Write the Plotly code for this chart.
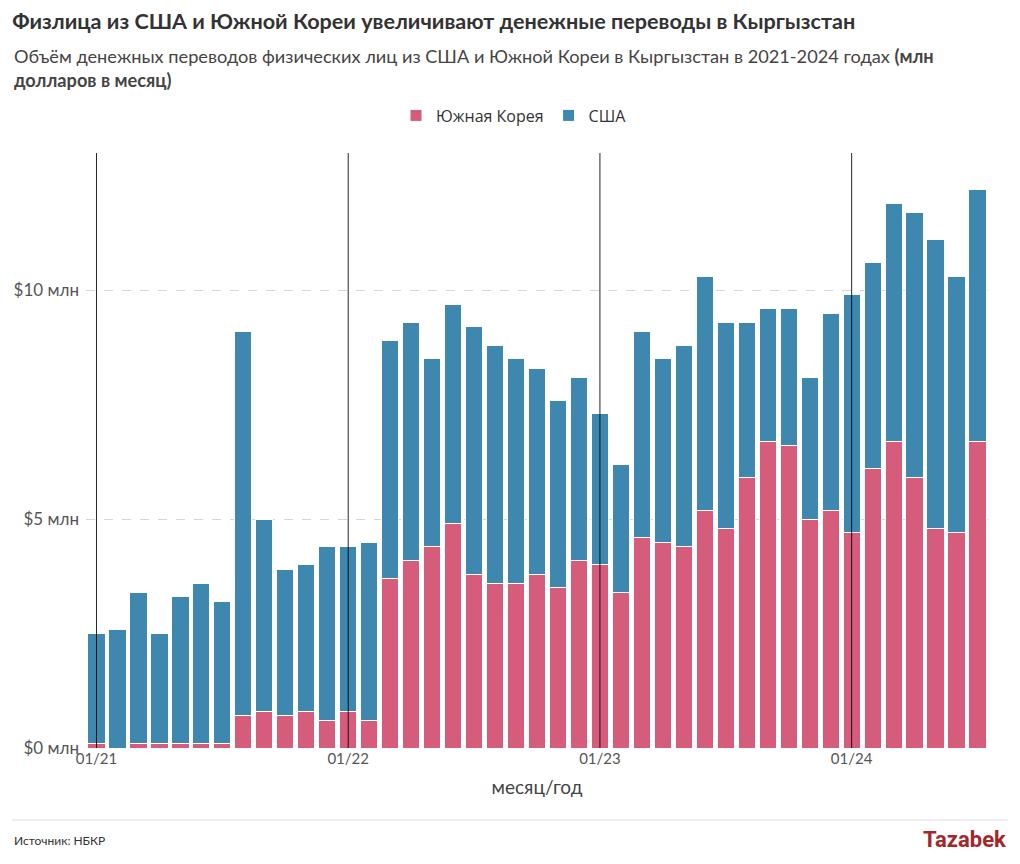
import plotly.graph_objects as go

months = [f"{m:02d}/{y}" for y in (21, 22, 23, 24) for m in range(1, 13)][:43]

total = [2.5, 2.6, 3.4, 2.5, 3.3, 3.6, 3.2, 9.1, 5.0, 3.9, 4.0, 4.4,
         4.4, 4.5, 8.9, 9.3, 8.5, 9.7, 9.2, 8.8, 8.5, 8.3, 7.6, 8.1,
         7.3, 6.2, 9.1, 8.5, 8.8, 10.3, 9.3, 9.3, 9.6, 9.6, 8.1, 9.5,
         9.9, 10.6, 11.9, 11.7, 11.1, 10.3, 12.2]
korea = [0.1, 0.0, 0.1, 0.1, 0.1, 0.1, 0.1, 0.7, 0.8, 0.7, 0.8, 0.6,
         0.8, 0.6, 3.7, 4.1, 4.4, 4.9, 3.8, 3.6, 3.6, 3.8, 3.5, 4.1,
         4.0, 3.4, 4.6, 4.5, 4.4, 5.2, 4.8, 5.9, 6.7, 6.6, 5.0, 5.2,
         4.7, 6.1, 6.7, 5.9, 4.8, 4.7, 6.7]
usa = [round(t - k, 2) for t, k in zip(total, korea)]

year_ticks = ["01/21", "01/22", "01/23", "01/24"]
y_ticks = [0, 5, 10]
y_labels = ["$0 млн", "$5 млн", "$10 млн"]

PINK = "#d65c7c"
BLUE = "#3e87ae"
FONT = "Lato, Roboto, sans-serif"

fig = go.Figure()
fig.add_trace(go.Bar(x=months, y=korea, name="Южная Корея",
                     marker=dict(color=PINK, line=dict(color="white", width=1))))
fig.add_trace(go.Bar(x=months, y=usa, name="США",
                     marker=dict(color=BLUE, line=dict(color="white", width=1))))

for t in year_ticks:
    fig.add_shape(type="line", xref="x", yref="paper", x0=t, x1=t, y0=0, y1=1,
                  line=dict(color="black", width=1), opacity=0.85, layer="above")

fig.update_layout(
    barmode="stack",
    bargap=0.18,
    width=1020, height=864,
    paper_bgcolor="white", plot_bgcolor="white",
    margin=dict(l=86, r=32, t=153, b=116),
    font=dict(family=FONT, color="#444"),
    title=dict(text="<b>Физлица из США и Южной Кореи увеличивают денежные переводы в Кыргызстан</b>",
               x=0.012, xanchor="left", y=0.975, yanchor="middle",
               font=dict(size=21.6, color="#333", family=FONT)),
    legend=dict(orientation="h", x=(514 - 86) / 902, xanchor="center", y=1.063, yanchor="middle",
                font=dict(size=16, color="#333", family="Open Sans, sans-serif"),
                traceorder="normal", itemwidth=30),
    xaxis=dict(type="category", categoryorder="array", categoryarray=months,
               tickmode="array", tickvals=year_ticks, ticktext=year_ticks,
               tickfont=dict(size=15, color="#555"), ticks="", showgrid=False,
               zeroline=False, showline=False,
               title=dict(text="месяц/год", font=dict(size=19, color="#444"), standoff=14)),
    yaxis=dict(range=[0, 13], tickmode="array", tickvals=y_ticks, ticktext=y_labels,
               tickfont=dict(size=17, color="#555"), showgrid=True,
               gridcolor="#d6d6d6", griddash="dash", gridwidth=1,
               zeroline=False, showline=False, ticks="", ticklabelstandoff=6),
)

fig.add_annotation(text="Объём денежных переводов физических лиц из США и Южной Кореи в Кыргызстан в 2021-2024 годах <b>(млн</b><br><b>долларов в месяц)</b>",
                   xref="paper", yref="paper", x=-74/902, xanchor="left",
                   y=1 + (153 - 68) / 595, yanchor="middle", align="left",
                   showarrow=False, font=dict(size=18.2, color="#444", family=FONT))

fig.add_shape(type="line", xref="paper", yref="paper",
              x0=-74/902, x1=1 + 20/902, y0=-(820 - 748) / 595, y1=-(820 - 748) / 595,
              line=dict(color="#dddddd", width=1))
fig.add_annotation(text="Источник: НБКР", xref="paper", yref="paper",
                   x=-74/902, xanchor="left", y=-(841 - 748) / 595, yanchor="middle",
                   showarrow=False, font=dict(size=12, color="#333", family=FONT))
fig.add_annotation(text="<b>Tazabek</b>", xref="paper", yref="paper",
                   x=1 + 20/902, xanchor="right", y=-(840 - 748) / 595, yanchor="middle",
                   showarrow=False, font=dict(size=22, color="#a3262a", family="Roboto, sans-serif"))

fig.write_html("out.html")
